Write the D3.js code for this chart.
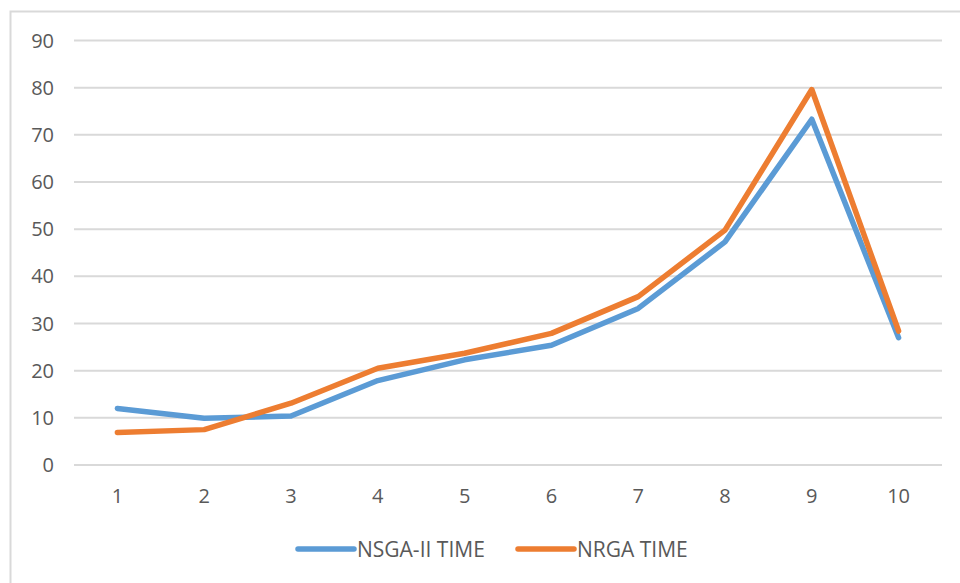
<!DOCTYPE html>
<html>
<head>
<meta charset="utf-8">
<script src="https://cdn.jsdelivr.net/npm/d3@7"></script>
<style>
  body { margin: 0; background: #fff; }
  text { font-family: "Open Sans", sans-serif; fill: #595959; }
</style>
</head>
<body>
<script>
// data
const categories = ["1", "2", "3", "4", "5", "6", "7", "8", "9", "10"]
const nsgaTime = [12.0, 9.9, 10.4, 17.9, 22.3, 25.4, 33.2, 47.3, 73.3, 27.0]
const nrgaTime = [6.9, 7.5, 13.1, 20.5, 23.7, 27.9, 35.7, 49.8, 79.6, 28.4]
const yTicks = [0, 10, 20, 30, 40, 50, 60, 70, 80, 90]
const seriesNames = ["NSGA-II TIME", "NRGA TIME"]
const seriesColors = ["#5B9BD5", "#ED7D31"]

const width = 960
const height = 583

var svg = d3.select("body").append("svg")
    .attr("width", width)
    .attr("height", height)

// chart frame (only top and left edge visible)
svg.append("path")
    .attr("d", "M10.5," + height + "V11.5H" + width)
    .attr("fill", "none")
    .attr("stroke", "#d9d9d9")
    .attr("stroke-width", 2)

var x = d3.scaleBand()
    .domain(categories)
    .range([74, 942])

var y = d3.scaleLinear()
    .domain([0, 90])
    .range([465, 40.5])

// gridlines
svg.append("g")
    .selectAll("line")
    .data(yTicks)
    .enter()
    .append("line")
        .attr("x1", 74)
        .attr("x2", 942)
        .attr("y1", (d) => y(d))
        .attr("y2", (d) => y(d))
        .attr("stroke", "#d9d9d9")
        .attr("stroke-width", 2)

// y labels
svg.append("g")
    .selectAll("text")
    .data(yTicks)
    .enter()
    .append("text")
        .attr("x", 54)
        .attr("y", (d) => y(d) + 7)
        .attr("text-anchor", "end")
        .style("font-size", "20px")
        .text((d) => d)

// x labels
svg.append("g")
    .selectAll("text")
    .data(categories)
    .enter()
    .append("text")
        .attr("x", (d) => x(d) + x.bandwidth() / 2)
        .attr("y", 503)
        .attr("text-anchor", "middle")
        .style("font-size", "20px")
        .text((d) => d)

var line = d3.line()
    .x((d, i) => x(categories[i]) + x.bandwidth() / 2)
    .y((d) => y(d))

var allSeries = [nsgaTime, nrgaTime]

svg.append("g")
    .selectAll("path")
    .data(allSeries)
    .enter()
    .append("path")
        .attr("d", (d) => line(d))
        .attr("fill", "none")
        .attr("stroke", (d, i) => seriesColors[i])
        .attr("stroke-width", 5.5)
        .attr("stroke-linejoin", "round")
        .attr("stroke-linecap", "round")

// legend
var legendX = [298, 518]
var legend = svg.append("g")
    .selectAll("g")
    .data(seriesNames)
    .enter()
    .append("g")
        .attr("transform", (d, i) => "translate(" + legendX[i] + ",549)")

legend.append("line")
    .attr("x1", 0)
    .attr("x2", 56)
    .attr("stroke", (d, i) => seriesColors[i])
    .attr("stroke-width", 5.5)
    .attr("stroke-linecap", "round")

legend.append("text")
    .attr("x", 59)
    .attr("y", 7.5)
    .style("font-size", "21px")
    .text((d) => d)
</script>
</body>
</html>
